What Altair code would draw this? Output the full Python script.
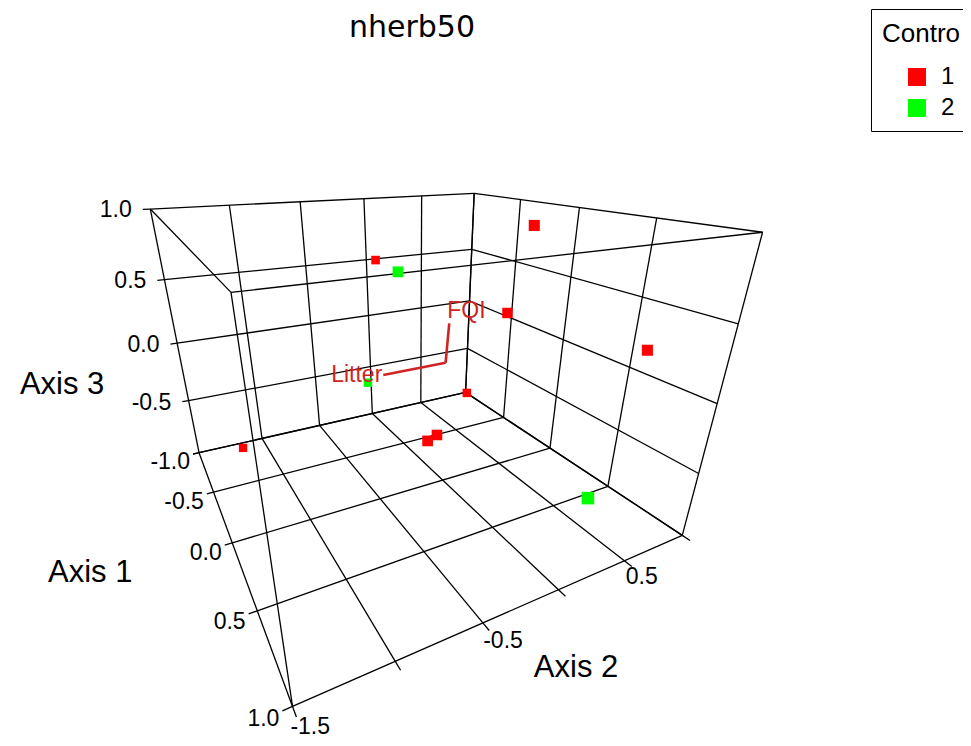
import numpy as np
import pandas as pd
import altair as alt

# ---------------- data ----------------
title_text = "nherb50"
legend_title = "Contro"
groups = ["1", "2"]
group_colors = ["#FF0000", "#00FF00"]

# ordination scores of the sample units
axis1 = [-0.82, -0.11, 0.17, 0.15, 0.65, -0.60, -0.29, 0.27, 0.25, -0.85, 0.98]
axis2 = [-0.02, -0.27, 0.46, 0.33, 0.90, -0.24, 0.42, -0.32, -0.24, -1.19, 0.14]
axis3 = [0.54, 0.65, 0.94, 0.37, 0.21, -0.41, -0.49, -0.37, -0.36, -0.94, -0.40]
group = ["1", "2", "1", "1", "1", "2", "1", "1", "1", "1", "2"]

# joint-plot vectors (from the centroid)
vec_names = ["Litter", "FQI"]
vec_a1 = [0.00, 0.00]
vec_a2 = [-0.45, 0.02]
vec_a3 = [0.00, 0.29]

# axes: tick values and the ticks that carry a label
ax1_ticks = [-1.0, -0.5, 0.0, 0.5, 1.0]
ax2_ticks = [-1.5, -1.0, -0.5, 0.0, 0.5, 1.0]
ax3_ticks = [-1.0, -0.5, 0.0, 0.5, 1.0]
ax1_labels = [-1.0, -0.5, 0.0, 0.5, 1.0]
ax2_labels = [-1.5, -0.5, 0.5]
ax3_labels = [-0.5, 0.0, 0.5, 1.0]
axis_titles = ["Axis 1", "Axis 2", "Axis 3"]

# ---------------- 3-D view (perspective camera, world -> screen) ----------------
VIEW = np.array([[-22.79300, 182.55983, -46.07962, 445.58855],
                 [-38.13587, 16.05101, -170.40866, 362.81853],
                 [-0.27112, 0.11523, -0.11070, 1.00000]])

def proj(X):
    X = np.atleast_2d(np.asarray(X, float))
    h = np.c_[X, np.ones(len(X))] @ VIEW.T
    return h[:, 0] / h[:, 2], h[:, 1] / h[:, 2], h[:, 2]

a1lo, a1hi = min(ax1_ticks), max(ax1_ticks)
a2lo, a2hi = min(ax2_ticks), max(ax2_ticks)
a3lo, a3hi = min(ax3_ticks), max(ax3_ticks)

# grid on floor, back wall and right wall + the three remaining box edges
segs = []
for a in ax1_ticks: segs.append(((a, a2lo, a3lo), (a, a2hi, a3lo)))
for b in ax2_ticks: segs.append(((a1lo, b, a3lo), (a1hi, b, a3lo)))
for b in ax2_ticks: segs.append(((a1lo, b, a3lo), (a1lo, b, a3hi)))
for c in ax3_ticks: segs.append(((a1lo, a2lo, c), (a1lo, a2hi, c)))
for a in ax1_ticks: segs.append(((a, a2hi, a3lo), (a, a2hi, a3hi)))
for c in ax3_ticks: segs.append(((a1lo, a2hi, c), (a1hi, a2hi, c)))
segs += [((a1lo, a2lo, a3hi), (a1hi, a2lo, a3hi)),
         ((a1hi, a2lo, a3hi), (a1hi, a2hi, a3hi)),
         ((a1hi, a2lo, a3lo), (a1hi, a2lo, a3hi))]

# tick marks
TL = 0.045
tick_start, tick_end = [], []
for c in ax3_ticks:
    tick_start.append((a1lo, a2lo, c)); tick_end.append((a1lo, a2lo - TL, c))
for a in ax1_ticks:
    tick_start.append((a, a2lo, a3lo)); tick_end.append((a, a2lo - TL, a3lo))
for b in ax2_ticks:
    tick_start.append((a1hi, b, a3lo)); tick_end.append((a1hi + TL, b, a3lo))
segs += list(zip(tick_start, tick_end))

S = np.array([s[0] for s in segs]); E = np.array([s[1] for s in segs])
gx, gy, _ = proj(S); gx2, gy2, _ = proj(E)
grid = pd.DataFrame({"x": gx, "y": gy, "x2": gx2, "y2": gy2})

xs = alt.Scale(domain=[8, 963], nice=False, zero=False)
ys = alt.Scale(domain=[8, 738], nice=False, zero=False, reverse=True)
X = lambda f="x": alt.X(f"{f}:Q", scale=xs, axis=None)
Y = lambda f="y": alt.Y(f"{f}:Q", scale=ys, axis=None)

grid_layer = alt.Chart(grid).mark_rule(color="black", strokeWidth=1.3).encode(
    x=X(), y=Y(), x2="x2", y2="y2")

FONT = "Liberation Sans"

def label_df(points, values):
    u, v, _ = proj(points)
    return pd.DataFrame({"x": u, "y": v, "t": [f"{val:.1f}" for val in values]})

lab3 = label_df([(a1lo, a2lo - TL, c) for c in ax3_labels], ax3_labels)
lab1 = label_df([(a, a2lo - TL, a3lo) for a in ax1_labels], ax1_labels)
lab2 = label_df([(a1hi + TL, b, a3lo) for b in ax2_labels], ax2_labels)

t3 = alt.Chart(lab3).mark_text(align="right", baseline="middle", dx=-11, dy=1, font=FONT, fontSize=23, color="black").encode(
    x=X(), y=Y(), text="t:N")
t1 = alt.Chart(lab1).mark_text(align="right", baseline="top", dx=-3, dy=-3, font=FONT, fontSize=23, color="black").encode(
    x=X(), y=Y(), text="t:N")
t2 = alt.Chart(lab2).mark_text(align="left", baseline="top", dx=-6, dy=-1, font=FONT, fontSize=23, color="black").encode(
    x=X(), y=Y(), text="t:N")

# axis titles, anchored at the middle of each labelled edge
mids = [((a1lo + a1hi) / 2, a2lo, a3lo), (a1hi, (a2lo + a2hi) / 2, a3lo), (a1lo, a2lo, (a3lo + a3hi) / 2)]
mu, mv, _ = proj(mids)
title_offsets = [(-142, 39), (54, 71), (-115, 51)]
at_layers = []
for i in range(3):
    df = pd.DataFrame({"x": [mu[i]], "y": [mv[i]], "t": [axis_titles[i]]})
    at_layers.append(alt.Chart(df).mark_text(align="center", baseline="alphabetic", dx=title_offsets[i][0],
                                             dy=title_offsets[i][1], font=FONT, fontSize=31, color="black").encode(
        x=X(), y=Y(), text="t:N"))

# joint-plot vectors
ou, ov, _ = proj([(0, 0, 0)] * len(vec_names))
vu, vv, _ = proj(np.c_[vec_a1, vec_a2, vec_a3])
vec = pd.DataFrame({"x": ou, "y": ov, "x2": vu, "y2": vv, "t": vec_names})
VCOL = "#D02424"
vec_layer = alt.Chart(vec).mark_rule(color=VCOL, strokeWidth=2.6).encode(x=X(), y=Y(), x2="x2", y2="y2")
vlab_l = alt.Chart(vec[vec.t == "Litter"]).mark_text(align="right", baseline="middle", dx=-1, dy=0, font=FONT,
                                                     fontSize=23, color=VCOL).encode(x=X("x2"), y=Y("y2"), text="t:N")
vlab_f = alt.Chart(vec[vec.t == "FQI"]).mark_text(align="left", baseline="alphabetic", dx=-2, dy=-5, font=FONT,
                                                  fontSize=23, color=VCOL).encode(x=X("x2"), y=Y("y2"), text="t:N")

# sample points, sized by perspective depth
pu, pv, pw = proj(np.c_[axis1, axis2, axis3])
pts = pd.DataFrame({"x": pu, "y": pv, "group": group, "s": (10.0 / pw) ** 2})
pt_layer = alt.Chart(pts).mark_square(opacity=1, strokeWidth=0).encode(
    x=X(), y=Y(),
    size=alt.Size("s:Q", scale=None, legend=None),
    color=alt.Color("group:N", scale=alt.Scale(domain=groups, range=group_colors),
                    legend=alt.Legend(title=legend_title, orient="none", legendX=863, legendY=1,
                                      strokeColor="black", fillColor="white", padding=11,
                                      titleFont=FONT, titleFontSize=26, titleFontWeight="normal",
                                      titleColor="black", titlePadding=19,
                                      titleBaseline="line-top", titleLineHeight=28,
                                      labelFont=FONT, labelFontSize=24, labelColor="black",
                                      symbolType="square", symbolSize=324, symbolStrokeWidth=0,
                                      symbolOpacity=1, symbolOffset=23, labelOffset=12, rowPadding=7)))

title_layer = alt.Chart(pd.DataFrame({"t": [title_text]})).mark_text(
    align="center", baseline="alphabetic", font="DejaVu Sans", fontSize=30, color="black").encode(
    x=alt.value(404), y=alt.value(29), text="t:N")

chart = alt.layer(grid_layer, vec_layer, pt_layer, t3, t1, t2, *at_layers, vlab_l, vlab_f, title_layer).properties(
    width=955, height=730, autosize="none", padding=0).configure_view(strokeWidth=0)
chart.save("out.html", embed_options={"renderer": "svg", "actions": False})
